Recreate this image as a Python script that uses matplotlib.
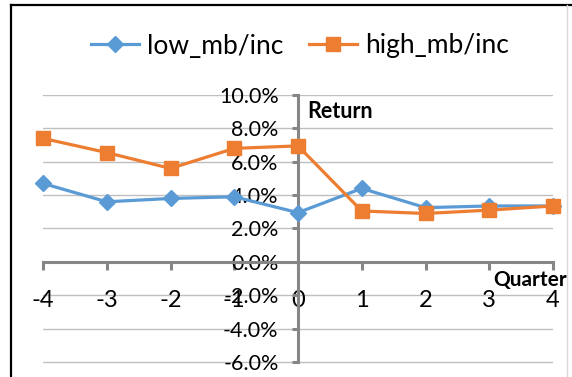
import matplotlib
matplotlib.use("Agg")
import matplotlib.pyplot as plt
from matplotlib.lines import Line2D

plt.rcParams['font.family'] = ['Lato', 'DejaVu Sans']

# quarters relative to event and average returns (%)
quarters = [-4, -3, -2, -1, 0, 1, 2, 3, 4]
low_mb_inc = [4.7, 3.6, 3.8, 3.9, 2.95, 4.4, 3.25, 3.35, 3.35]
high_mb_inc = [7.4, 6.55, 5.6, 6.8, 6.95, 3.05, 2.9, 3.1, 3.35]
y_ticks = [-6, -4, -2, 0, 2, 4, 6, 8, 10]

BLUE = "#5B9BD5"
ORANGE = "#ED7D31"
GRID = "#BFBFBF"
AXIS = "#868686"

fig = plt.figure(figsize=(5.72, 3.77), dpi=100)
ax = fig.add_axes([43 / 572, 0.0, 510 / 572, 1 - 95 / 377])
ax.set_xlim(-4, 4)
ax.set_ylim(-6.9, 10)

for yv in y_ticks:
    if yv != 0:
        ax.axhline(yv, color=GRID, lw=1.0, zorder=0)

ax.plot(quarters, low_mb_inc, color=BLUE, lw=2.3, marker="D", ms=8,
        label="low_mb/inc", zorder=3, clip_on=False)
ax.plot(quarters, high_mb_inc, color=ORANGE, lw=2.3, marker="s", ms=10,
        label="high_mb/inc", zorder=4, clip_on=False)

# axes cross at the origin
for side in ("top", "right"):
    ax.spines[side].set_visible(False)
ax.spines["left"].set_position(("data", 0))
ax.spines["left"].set_bounds(-6, 10)
ax.spines["bottom"].set_position(("data", 0))
for side in ("left", "bottom"):
    ax.spines[side].set_color(AXIS)
    ax.spines[side].set_linewidth(2.2)
    ax.spines[side].set_zorder(2)

ax.set_xticks(quarters)
ax.set_xticklabels([str(q) for q in quarters])
ax.set_yticks(y_ticks)
ax.set_yticklabels([f"{v:.1f}%" for v in y_ticks])
ax.tick_params(axis="x", direction="out", length=6, width=2.2, color=AXIS,
               pad=14, labelsize=17)
ax.tick_params(axis="y", direction="out", length=4, width=2.2, color=AXIS,
               pad=10, labelsize=15.5)

ax.text(0.15, 9.0, "Return", fontsize=15.5, fontweight="bold", va="center", ha="left")
ax.text(4.22, -1.1, "Quarter", fontsize=15, fontweight="bold", va="center", ha="right",
        clip_on=False)

handles = [
    Line2D([], [], color=BLUE, lw=2.3, marker="D", ms=8),
    Line2D([], [], color=ORANGE, lw=2.3, marker="s", ms=10),
]
fig.legend(handles, ["low_mb/inc", "high_mb/inc"], loc="center",
           bbox_to_anchor=(300 / 572, 1 - 46 / 377), ncol=2, frameon=False,
           fontsize=19, handlelength=1.8, handletextpad=0.3, columnspacing=1.0)

# chart frame
fig.add_artist(Line2D([11 / 572, 11 / 572], [0, 1 - 5 / 377], color="black", lw=1.6))
fig.add_artist(Line2D([11 / 572, 1], [1 - 5 / 377, 1 - 5 / 377], color="black", lw=1.6))
fig.add_artist(Line2D([567 / 572, 567 / 572], [0, 1 - 5 / 377], color="#D9D9D9", lw=1.0))

fig.savefig("out.png", dpi=100)
